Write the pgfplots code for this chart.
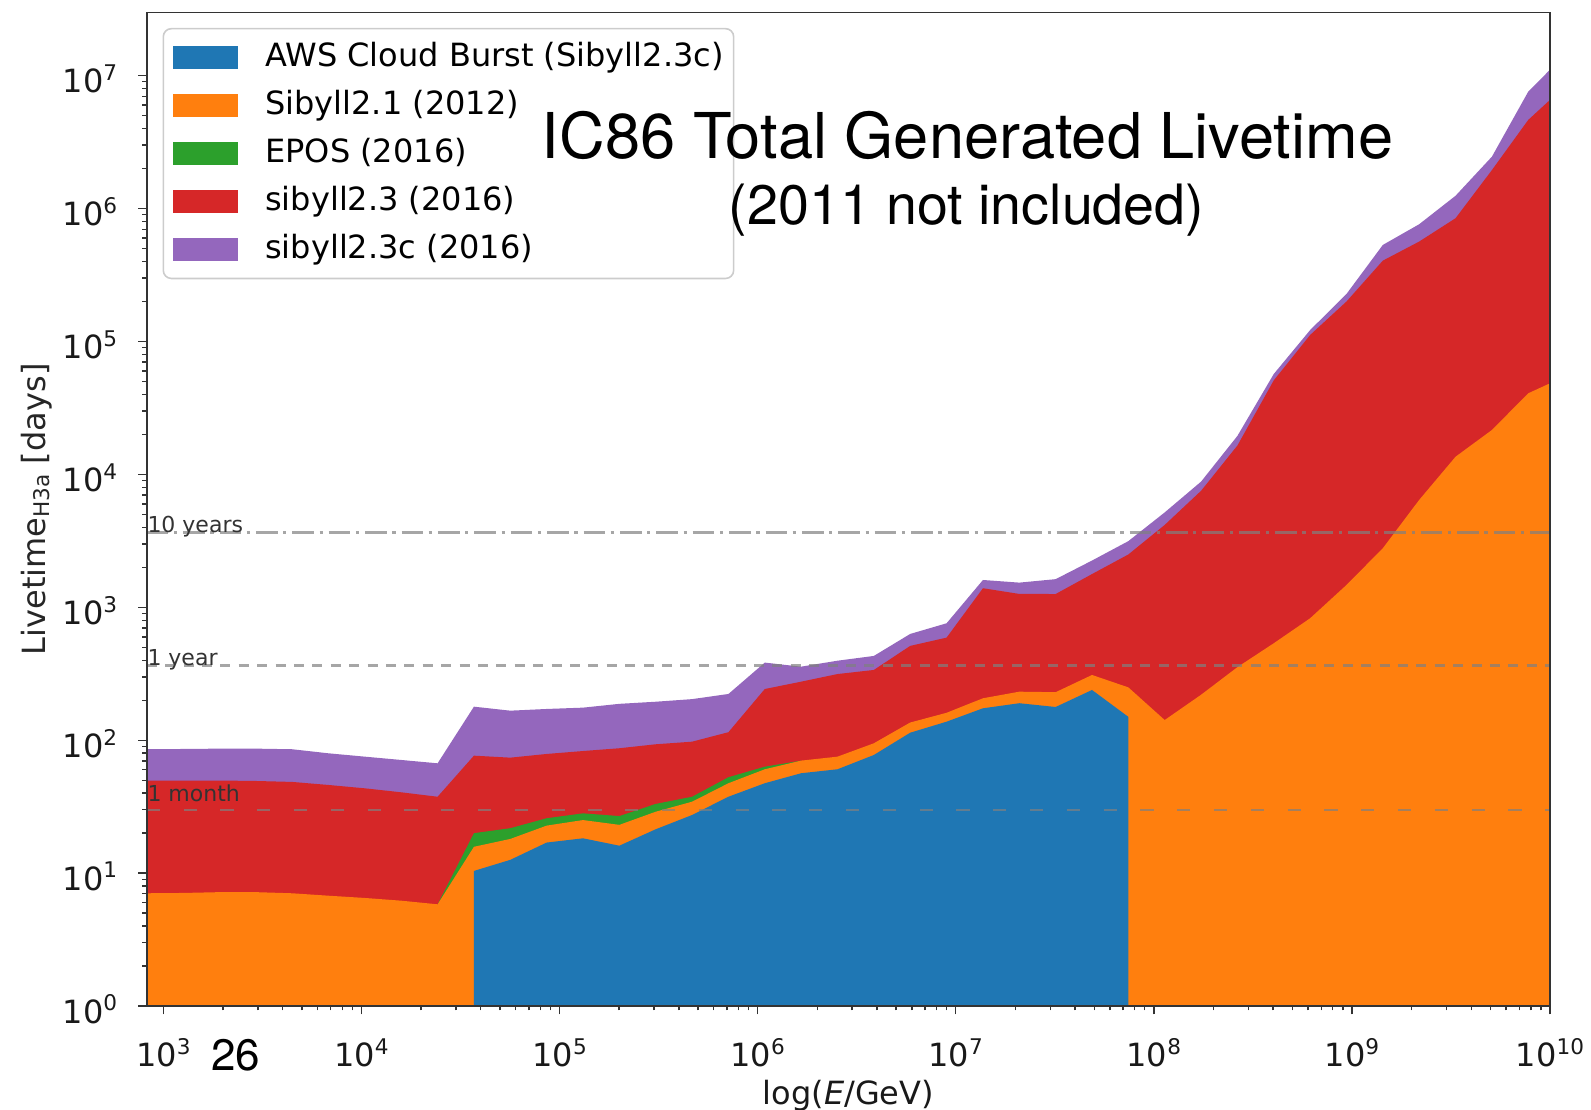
\documentclass[border=0pt]{standalone}
\usepackage{fontspec}
\setmainfont{DejaVu Sans}
\newfontfamily\heros{TeX Gyre Heros}
\usepackage{pgfplots}
\pgfplotsset{compat=1.18}
\definecolor{c0}{HTML}{1F77B4}
\definecolor{c1}{HTML}{FF7F0E}
\definecolor{c2}{HTML}{2CA02C}
\definecolor{c3}{HTML}{D62728}
\definecolor{c4}{HTML}{9467BD}
\newcommand\sups[1]{\raisebox{3.1pt}{\fontsize{5.4}{6}\selectfont #1}}
\begin{document}
\begin{tikzpicture}
\useasboundingbox (-36.675pt,-25.975pt) rectangle (361.075pt,251.525pt);
\begin{axis}[
  scale only axis, width=350.825pt, height=248.4pt,
  xmode=log, ymode=log,
  xmin=824, xmax=1e10, ymin=1, ymax=2.99e7,
  axis on top,
  tick pos=left,
  xtick={1e3,1e4,1e5,1e6,1e7,1e8,1e9,1e10},
  xticklabels={10\sups{3},10\sups{4},10\sups{5},10\sups{6},10\sups{7},10\sups{8},10\sups{9},10\sups{10}},
  ytick={1,10,100,1000,1e4,1e5,1e6,1e7},
  yticklabels={10\sups{0},10\sups{1},10\sups{2},10\sups{3},10\sups{4},10\sups{5},10\sups{6},10\sups{7}},
  tick align=outside,
  major tick length=2.1pt, minor tick length=1.1pt,
  tick style={black!80, line width=0.35pt},
  axis line style={black!80, line width=0.4pt},
  tick label style={font=\fontsize{8}{9.6}\selectfont, inner sep=0pt, text=black!90},
  xticklabel style={anchor=base, yshift=-13pt},
  yticklabel style={anchor=base east, xshift=-5.1pt, yshift=-4.3pt},
  legend image code/.code={\fill[#1, draw=none, sharp corners] (0pt,-2.9pt) rectangle (16.1pt,2.9pt);},
  legend cell align=left,
  legend style={at={(rel axis cs:0.01126,0.9845)}, anchor=north west,
    draw=black!20, line width=0.4pt, rounded corners=2pt, fill=white,
    font=\fontsize{8}{9.6}\selectfont,
    inner xsep=2.5pt, inner ysep=3.3pt, row sep=3.96pt,
    nodes={inner sep=0pt, text height=6.2pt, text depth=1.8pt},
    /tikz/every odd column/.append style={column sep=6.9pt}},
]
\addlegendimage{fill=c0}\addlegendentry{AWS Cloud Burst (Sibyll2.3c)}
\addlegendimage{fill=c1}\addlegendentry{Sibyll2.1 (2012)}
\addlegendimage{fill=c2}\addlegendentry{EPOS (2016)}
\addlegendimage{fill=c3}\addlegendentry{sibyll2.3 (2016)}
\addlegendimage{fill=c4}\addlegendentry{sibyll2.3c (2016)}

% sibyll2.3c (cumulative total)
\addplot[fill=c4, draw=none, forget plot] coordinates {
(824,85.6) (1257.5,86) (1919,86.5) (2928,86.5) (4469,85.6) (6818,79.8) (10404,75.3) (15875,71.1) (24230,67.1)
(36970,179) (56410,167) (86070,172) (131340,176) (200400,188) (305800,195) (466700,204) (712100,223)
(1.0865e6,384) (1.658e6,358) (2.53e6,397) (3.86e6,431) (5.89e6,631) (8.99e6,759) (1.372e7,1607)
(2.093e7,1535) (3.194e7,1630) (4.874e7,2250) (7.436e7,3150) (1.1346e8,5180) (1.7315e8,8830)
(2.642e8,19500) (4.031e8,57000) (6.152e8,122000) (9.387e8,228000) (1.432e9,533000) (2.185e9,763000)
(3.336e9,1.25e6) (5.089e9,2.46e6) (7.765e9,7.59e6) (1e10,1.11e7)} \closedcycle;
% sibyll2.3
\addplot[fill=c3, draw=none, forget plot] coordinates {
(824,49.7) (1257.5,49.8) (1919,49.8) (2928,49.4) (4469,48.6) (6818,46.1) (10404,43.5) (15875,40.6) (24230,37.6)
(36970,76.6) (56410,74) (86070,78.9) (131340,83) (200400,87.1) (305800,93.3) (466700,97.6) (712100,115)
(1.0865e6,243) (1.658e6,276) (2.53e6,315) (3.86e6,338) (5.89e6,513) (8.99e6,592) (1.372e7,1393)
(2.093e7,1262) (3.194e7,1260) (4.874e7,1780) (7.436e7,2500) (1.1346e8,4170) (1.7315e8,7530)
(2.642e8,16500) (4.031e8,51000) (6.152e8,112000) (9.387e8,200000) (1.432e9,406000) (2.185e9,565000)
(3.336e9,847000) (5.089e9,1.95e6) (7.765e9,4.65e6) (1e10,6.58e6)} \closedcycle;
% EPOS
\addplot[fill=c2, draw=none, forget plot] coordinates {
(24230,5.83) (36970,20.0) (56410,21.8) (86070,25.9) (131340,28.2) (200400,26.9) (305800,33.2)
(466700,37.6) (712100,52.7) (1.0865e6,63.3) (1.658e6,70.3)} \closedcycle;
% Sibyll2.1
\addplot[fill=c1, draw=none, forget plot] coordinates {
(824,7.06) (1257.5,7.1) (1919,7.2) (2928,7.2) (4469,7.06) (6818,6.77) (10404,6.51) (15875,6.21) (24230,5.83)
(36970,15.8) (56410,18.1) (86070,22.8) (131340,25.1) (200400,23.1) (305800,29.0) (466700,34.5) (712100,47.5)
(1.0865e6,60.5) (1.658e6,70.3) (2.53e6,75.3) (3.86e6,94.9) (5.89e6,136) (8.99e6,161) (1.372e7,207)
(2.093e7,232) (3.194e7,230) (4.874e7,310) (7.436e7,250) (1.1346e8,142) (1.7315e8,220) (2.642e8,355)
(4.031e8,537) (6.152e8,828) (9.387e8,1474) (1.432e9,2785) (2.185e9,6430) (3.336e9,13600)
(5.089e9,21600) (7.765e9,40800) (1e10,48500)} \closedcycle;
% AWS Cloud Burst
\addplot[fill=c0, draw=none, forget plot] coordinates {
(36970,10.4) (56410,12.6) (86070,17.0) (131340,18.3) (200400,16.1) (305800,21.4) (466700,27.4)
(712100,37.6) (1.0865e6,47.5) (1.658e6,56.5) (2.53e6,60.5) (3.86e6,77.5) (5.89e6,114) (8.99e6,138)
(1.372e7,174) (2.093e7,190) (3.194e7,178) (4.874e7,239) (7.436e7,150)} \closedcycle;

% reference lines
\addplot[gray, opacity=0.7, line width=0.5pt, dash pattern=on 3.3pt off 5.9pt, forget plot]
  coordinates {(824,30) (1e10,30)};
\addplot[gray, opacity=0.7, line width=0.8pt, dash pattern=on 2.5pt off 2.1pt, forget plot]
  coordinates {(824,365) (1e10,365)};
\addplot[gray, opacity=0.7, line width=0.8pt, dash pattern=on 5.4pt off 1.4pt on 0.8pt off 1.5pt, forget plot]
  coordinates {(824,3650) (1e10,3650)};
\node[anchor=base west, inner sep=0pt, font=\fontsize{5.5}{6}\selectfont, text=black!80] at (axis cs:824,30) [yshift=2pt] {1 month};
\node[anchor=base west, inner sep=0pt, font=\fontsize{5.5}{6}\selectfont, text=black!80] at (axis cs:824,365) {1 year};
\node[anchor=base west, inner sep=0pt, font=\fontsize{5.5}{6}\selectfont, text=black!80] at (axis cs:824,3650) {10 years};
\end{axis}
\node[rotate=90, anchor=center, font=\fontsize{8}{9.6}\selectfont, text=black!85] at (-27.4pt,124.2pt)
  {Livetime\raisebox{-1pt}{\fontsize{5.4}{6}\selectfont H3a} [days]};
\node[anchor=base, font=\fontsize{8}{9.6}\selectfont, text=black!90] at (175.4pt,-24.5pt) {log(\textit{E}/GeV)};
\node[anchor=base, font=\heros\fontsize{15.8}{18}\selectfont] at (205.2pt,211.8pt) {IC86 Total Generated Livetime};
\node[anchor=base, font=\heros\fontsize{13.9}{16}\selectfont] at (204.95pt,195.3pt) {(2011 not included)};
\node[anchor=base west, inner sep=0pt, font=\heros\fontsize{11}{13}\selectfont] at (15.9pt,-16pt) {26};
\end{tikzpicture}
\end{document}
